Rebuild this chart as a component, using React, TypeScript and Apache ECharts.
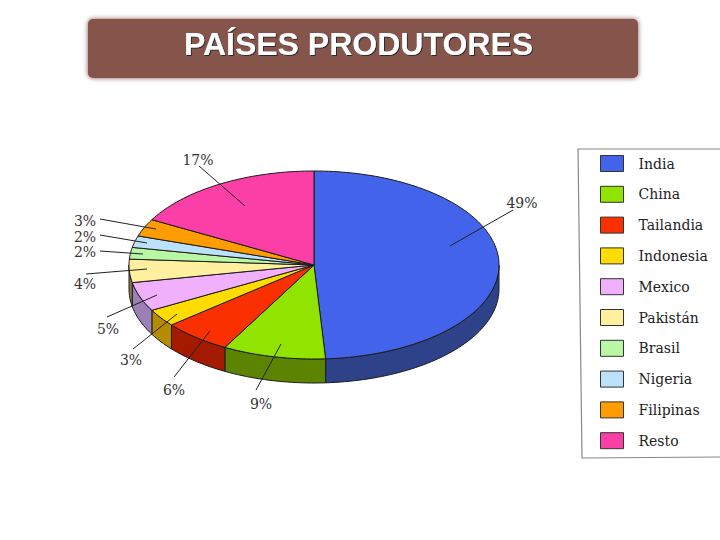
import React, { useEffect, useRef } from "react";
import * as echarts from "echarts";

const titleText = "PAÍSES PRODUTORES";
const countries = ["India", "China", "Tailandia", "Indonesia", "Mexico", "Pakistán", "Brasil", "Nigeria", "Filipinas", "Resto"];
const shares = [49, 9, 6, 3, 5, 4, 2, 2, 3, 17];
const topColors = ["#4263ea", "#90e400", "#fb3000", "#ffdc00", "#f0b0fb", "#fff0a0", "#b9f7a4", "#bce2fb", "#ff9c00", "#fb3fa6"];
const sideColors = ["#2d4288", "#5c8400", "#a31a00", "#b58c00", "#9a80b4", "#8a7a50", "#777", "#777", "#777", "#777"];

// Layout of the tilted pie, in pixels
const CX = 314, CY = 265, RX = 185, RY = 94, DEPTH = 24;
// Leader lines: inner end, outer end, label centre
const leaders: number[][] = [
  [450, 246, 513, 210, 522, 203],
  [281, 344, 256, 390, 261, 404],
  [210, 331, 174, 377, 174, 390],
  [177, 314, 133, 349, 131, 360],
  [157, 295, 107, 317, 108, 329],
  [147, 269, 86, 274, 85, 284],
  [143, 254, 100, 251, 85, 252],
  [147, 243, 100, 235, 85, 237],
  [156, 229, 100, 219, 85, 221],
  [245, 206, 199, 166, 198, 160],
];

const total = shares.reduce((a, b) => a + b, 0);
const pt = (deg: number, dy = 0) => {
  const r = (deg * Math.PI) / 180;
  return [CX + RX * Math.sin(r), CY - RY * Math.cos(r) + dy];
};
const arc = (from: number, to: number, dy = 0) => {
  const out: number[][] = [];
  const n = Math.max(2, Math.ceil(Math.abs(to - from) / 1.5));
  for (let i = 0; i <= n; i++) out.push(pt(from + ((to - from) * i) / n, dy));
  return out;
};

const makeRender = (index: number) => (_params: any, api: any) => {
  const value = api.value(0) as number;
  const before = shares.slice(0, index).reduce((a, b) => a + b, 0);
  const start = (before / total) * 360;
  const end = ((before + value) / total) * 360;
  const children: any[] = [];
  const a = Math.max(start, 90);
  const b = Math.min(end, 270);
  if (b > a) {
    children.push({
      type: "polygon",
      z2: 1,
      shape: { points: [...arc(a, b), ...arc(b, a, DEPTH)] },
      style: { fill: sideColors[index], stroke: "#1c1c1c", lineWidth: 1 },
    });
  }
  children.push({
    type: "polygon",
    z2: 2,
    shape: { points: [[CX, CY], ...arc(start, end)] },
    style: { fill: topColors[index], stroke: "#1c1c1c", lineWidth: 1, lineJoin: "round" },
  });
  const [x1, y1, x2, y2, lx, ly] = leaders[index];
  children.push({
    type: "line",
    z2: 3,
    shape: { x1, y1, x2, y2 },
    style: { stroke: "#222", lineWidth: 1 },
  });
  children.push({
    type: "text",
    z2: 4,
    x: lx,
    y: ly,
    style: {
      text: `${value}%`,
      fill: "#333",
      font: '14px "DejaVu Serif"',
      align: "center",
      verticalAlign: "middle",
    },
  });
  return { type: "group", children };
};

export default function App() {
  const ref = useRef<HTMLDivElement>(null);
  useEffect(() => {
    const chart = echarts.init(ref.current!, undefined, { renderer: "svg" });
    chart.setOption({
      animation: false,
      backgroundColor: "#fff",
      title: {
        text: titleText,
        left: 353.5,
        top: 23,
        textAlign: "center",
        textStyle: {
          color: "#fff",
          fontFamily: '"Liberation Sans"',
          fontWeight: "bold",
          fontSize: 32,
          textShadowColor: "#2a2a2a",
          textShadowBlur: 1,
          textShadowOffsetX: 1,
          textShadowOffsetY: 1,
        },
      },
      legend: {
        orient: "vertical",
        left: 595,
        top: 150,
        itemWidth: 23,
        itemHeight: 16,
        itemGap: 13.8,
        icon: "rect",
        selectedMode: false,
        data: countries,
        itemStyle: { borderColor: "#333", borderWidth: 1 },
        textStyle: { color: "#222", fontFamily: '"DejaVu Serif"', fontSize: 14, lineHeight: 17, padding: [0, 0, 0, 10] },
      },
      graphic: [
        {
          type: "rect",
          z: 0,
          shape: { x: 88, y: 19, width: 550, height: 59, r: 5 },
          style: { fill: "#85544c", shadowBlur: 5, shadowColor: "#85544c" },
        },
        {
          type: "polyline",
          z: 0,
          shape: { points: [[720, 149], [578, 149], [582, 458], [720, 457]] },
          style: { stroke: "#888", lineWidth: 1.2, fill: "none" },
        },
      ],
      series: countries.map((name, i) => ({
        type: "custom",
        name,
        coordinateSystem: "none",
        itemStyle: { color: topColors[i] },
        data: [[shares[i]]],
        renderItem: makeRender(i),
      })),
    });
    return () => chart.dispose();
  }, []);
  return <div ref={ref} style={{ position: "absolute", left: 0, top: 0, width: 720, height: 540 }} />;
}
